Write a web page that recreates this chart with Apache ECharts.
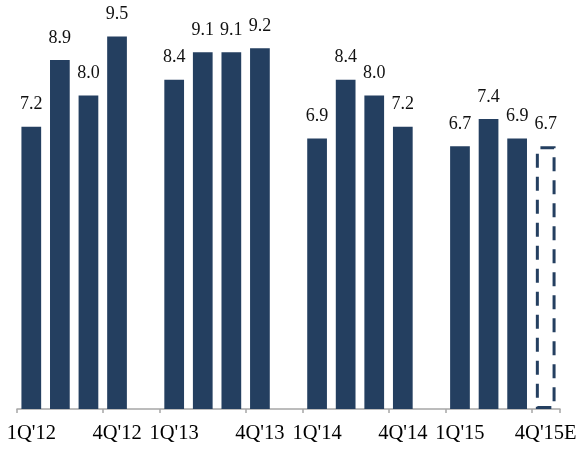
<!DOCTYPE html>
<html>
<head>
<meta charset="utf-8">
<script src="https://cdn.jsdelivr.net/npm/echarts@6/dist/echarts.min.js"></script>
<style>html,body{margin:0;padding:0;background:#fff}#c{width:581px;height:450px}</style>
</head>
<body>
<div id="c"></div>
<script>
// Categories (blank slots separate years)
var categories = ["1Q'12","2Q'12","3Q'12","4Q'12"," ",
                  "1Q'13","2Q'13","3Q'13","4Q'13","  ",
                  "1Q'14","2Q'14","3Q'14","4Q'14","   ",
                  "1Q'15","2Q'15","3Q'15","4Q'15E"];
var values = [7.2, 8.9, 8.0, 9.5, null,
              8.4, 9.1, 9.1, 9.2, null,
              6.9, 8.4, 8.0, 7.2, null,
              6.7, 7.4, 6.9, 6.7];
var estimated = ["4Q'15E"];
var shownLabels = ["1Q'12","4Q'12","1Q'13","4Q'13","1Q'14","4Q'14","1Q'15","4Q'15E"];

var barColor = '#243f60';
var data = values.map(function (v, i) {
  if (v === null) return '-';
  if (estimated.indexOf(categories[i]) >= 0) {
    return {
      value: v,
      itemStyle: { color: '#ffffff', borderColor: barColor, borderWidth: 3, borderType: [14, 9] }
    };
  }
  return v;
});

var chart = echarts.init(document.getElementById('c'), null, { renderer: 'canvas' });
chart.setOption({
  animation: false,
  grid: { left: 17, right: 21, top: 17, bottom: 41, containLabel: false },
  xAxis: {
    type: 'category',
    data: categories,
    axisLine: { lineStyle: { color: '#a6a6a6', width: 1.5 } },
    axisTick: { show: true, length: 4, lineStyle: { color: '#a6a6a6', width: 1.5 } },
    axisLabel: {
      interval: function (idx, val) { return shownLabels.indexOf(val) >= 0; },
      color: '#000',
      fontFamily: 'Liberation Serif',
      fontSize: 20.5,
      margin: 14
    }
  },
  yAxis: { type: 'value', min: 0, max: 10, show: false, splitLine: { show: false } },
  series: [{
    type: 'bar',
    data: data,
    barCategoryGap: '31%',
    itemStyle: { color: barColor },
    label: {
      show: true,
      position: 'top',
      distance: 13,
      color: '#111',
      fontFamily: 'Liberation Serif',
      fontSize: 18,
      formatter: function (p) { return p.value.toFixed(1); }
    }
  }]
});
</script>
</body>
</html>
